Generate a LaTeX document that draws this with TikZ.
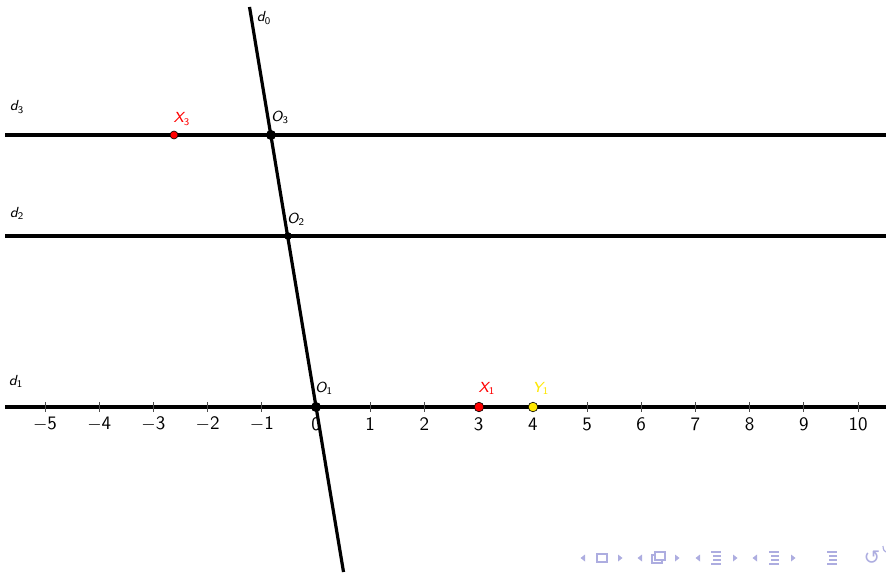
\documentclass[tikz,border=0pt]{standalone}
\usepackage{fontspec}
\newfontfamily\dejavu{DejaVu Sans}
\definecolor{navc}{rgb}{0.68,0.68,0.88}
\begin{document}
\begin{tikzpicture}[x=0.5pt,y=-0.5pt,
  thickline/.style={line width=1.6pt, black},
  tickmark/.style={line width=0.4pt, black!70},
  num/.style={font=\sffamily\fontsize{9.5}{10}\selectfont, inner sep=0pt},
  lab/.style={font=\sffamily\itshape\fontsize{7.3}{8}\selectfont, inner sep=0pt},
  blackpt/.style={circle, fill=black, inner sep=0pt, minimum size=#1},
  colpt/.style={circle, fill=#1, draw=black, line width=0.3pt, inner sep=0pt, minimum size=4.8pt},
  navfill/.style={fill=navc, draw=none},
  navline/.style={draw=navc, line width=0.6pt}]
\useasboundingbox (0,0) rectangle (886,572);
% lines
\coordinate (top) at (249.5,7);
\coordinate (bot) at (343.5,572);
\coordinate (L1) at (5,407); \coordinate (R1) at (886,407);
\coordinate (L2) at (5,236); \coordinate (R2) at (886,236);
\coordinate (L3) at (5,135); \coordinate (R3) at (886,135);
\draw[thickline] (L1) -- (R1);
\draw[thickline] (L2) -- (R2);
\draw[thickline] (L3) -- (R3);
% ticks and numbers
\foreach \i in {-5,...,10} {
  \pgfmathsetmacro{\xx}{316+54.2*\i}
  \draw[tickmark] (\xx,402) -- (\xx,412);
  \ifnum\i<0
    \node[num] (n\i) at (\xx,424) {\(-\)\the\numexpr-\i\relax};
  \else
    \node[num] (n\i) at (\xx,424) {\i};
  \fi
}
\draw[thickline] (top) -- (bot);
% points
\node[blackpt=5pt] (O1) at (316,407) {};
\node[blackpt=3.8pt] (O2) at (288,236) {};
\node[blackpt=5pt] (O3) at (271,135) {};
\node[colpt=red, minimum size=4pt] (X3) at (174,135) {};
\node[colpt=red] (X1) at (479,407) {};
\node[colpt=yellow!90!orange] (Y1) at (533,407) {};
% labels
\node[lab] (ld0) at (264,18) {d\textsubscript{\upshape 0}};
\node[lab] (ld3) at (17,107) {d\textsubscript{\upshape 3}};
\node[lab] (ld2) at (17,213) {d\textsubscript{\upshape 2}};
\node[lab] (ld1) at (16,381) {d\textsubscript{\upshape 1}};
\node[lab] (lO3) at (280,117) {O\textsubscript{\upshape 3}};
\node[lab] (lO2) at (296,219) {O\textsubscript{\upshape 2}};
\node[lab] (lO1) at (324,388) {O\textsubscript{\upshape 1}};
\node[lab, text=red] (lX3) at (182,119) {X\textsubscript{\upshape 3}};
\node[lab, text=red] (lX1) at (487,388) {X\textsubscript{\upshape 1}};
\node[lab, text=yellow!90!orange] (lY1) at (541,388) {Y\textsubscript{\upshape 1}};
% navigation symbols
\foreach \x in {583,640,698,755} {
  \fill[navfill] (\x+2,554.5) -- (\x+2,561.5) -- (\x-2.5,558) -- cycle;
}
\foreach \x in {620,677,735,793} {
  \fill[navfill] (\x-2,554.5) -- (\x-2,561.5) -- (\x+2.5,558) -- cycle;
}
\draw[navline] (597,554) rectangle (607,562);
\draw[navline, fill=white] (652,555) rectangle (662,563);
\draw[navline, fill=white] (655,552) rectangle (665,560);
\foreach \x in {716,774,832} {
  \draw[navline] (\x-5,552) -- (\x+5,552);
  \draw[navline] (\x-3,556) -- (\x+5,556);
  \draw[navline] (\x-3,560) -- (\x+5,560);
  \draw[navline] (\x-5,564) -- (\x+5,564);
}
\node[text=navc, font=\dejavu\fontsize{10}{10}\selectfont, inner sep=0pt] (loop) at (872,558) {↺};
\draw[navline] (886,552) arc (90:180:3 and 6);
\end{tikzpicture}
\end{document}
